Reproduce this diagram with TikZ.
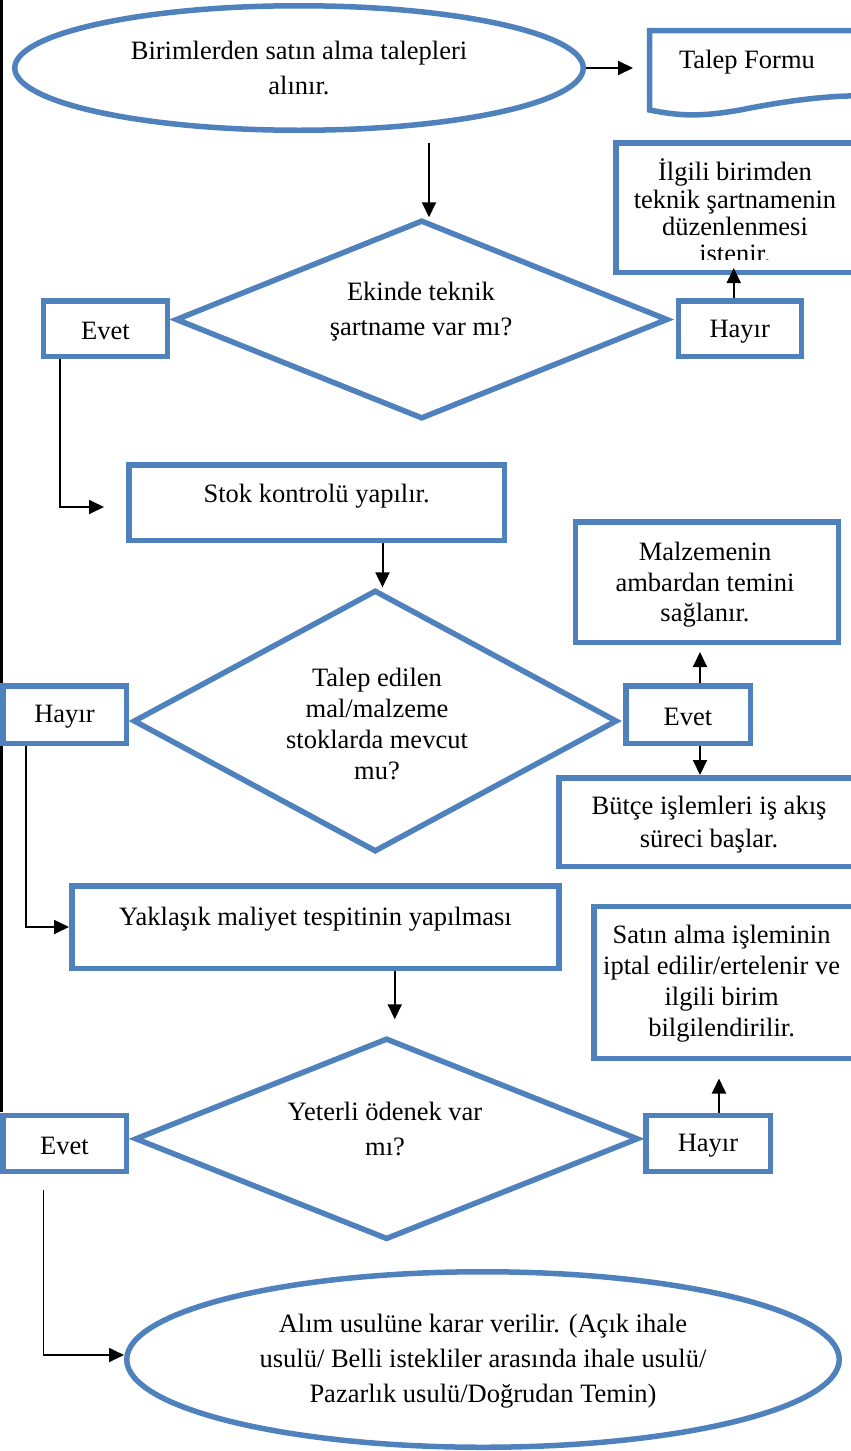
\documentclass[tikz,border=0pt]{standalone}
\usepackage{fontspec}
\setmainfont{Liberation Serif}
\usetikzlibrary{arrows.meta,shapes.geometric}
\definecolor{wblue}{RGB}{79,129,189}
\begin{document}
\begin{tikzpicture}[x=1pt,y=-1pt,
  shapeline/.style={draw=wblue, line width=5.5pt},
  box/.style={shapeline, rectangle, inner sep=2pt},
  ell/.style={shapeline, ellipse, inner sep=1pt, align=center, font=\fontsize{26.5}{35}\selectfont},
  dia/.style={shapeline, diamond, inner sep=0pt},
  txt/.style={inner sep=0pt, align=center, font=\fontsize{26.5}{35}\selectfont},
  arr/.style={line width=2pt, -{Triangle[length=15pt,width=14pt]}},
  arrthin/.style={line width=1.8pt, -{Triangle[length=15pt,width=14pt]}}]
\useasboundingbox (0,0) rectangle (851,1451);
\clip (0,0) rectangle (851,1451);

% page border line on the left
\draw[line width=3pt] (1.5,0) -- (1.5,1112);

% start ellipse
\node[ell, minimum width=568.5pt, minimum height=124.5pt] (ell1) at (299,68) {Birimlerden satın alma talepleri\\alınır.};

% document shape
\draw[shapeline] (649.5,110) -- (649.5,30.5) -- (870,30.5) -- (870,96)
  .. controls (840,95) and (800,98) .. (740,110)
  .. controls (700,117) and (680,116) .. (649.5,110) -- cycle;
\node[txt] (talepT) at (747,62) {Talep Formu};
\coordinate (cTalep) at (633,67);

% decision 1
\coordinate (c1) at (429,143);
\node[dia, minimum width=492.6pt, minimum height=199pt] (d1) at (421.7,319.5) {};
\node[txt] (d1T) at (421,312) {Ekinde teknik\\şartname var mı?};
\node[box, minimum width=123.8pt, minimum height=55.5pt] (e1) at (105.4,328.5) {};
\node[txt] (e1T) at ([yshift=-2.5pt]e1.center) {Evet};
\node[box, minimum width=123pt, minimum height=55.5pt] (h1) at (739.75,328.5) {};
\node[txt] (h1T) at ([yshift=-3pt]h1.center) {Hayır};
\node[box, minimum width=242.5pt, minimum height=129.5pt] (ilgili) at (737,207.5) {};
\begin{scope}
  \clip (618,145) rectangle (851,259);
  \node[txt, font=\fontsize{26.5}{27.3}\selectfont] (ilgiliT) at (735,211) {İlgili birimden\\teknik şartnamenin\\düzenlenmesi\\istenir.};
\end{scope}

% stock control
\node[box, minimum width=375.5pt, minimum height=75.5pt] (stok) at (316.5,502.5) {};
\node[txt] (stokT) at (316.6,496) {Stok kontrolü yapılır.};
\coordinate (cStok) at (104,507);

% decision 2
\node[dia, minimum width=483.9pt, minimum height=261.8pt] (d2) at (375.25,721) {};
\node[txt, font=\fontsize{26.5}{30.7}\selectfont] (d2T) at (377,724) {Talep edilen\\mal/malzeme\\stoklarda mevcut\\mu?};
\node[box, minimum width=123.5pt, minimum height=57.5pt] (h2) at (64.5,714.5) {};
\node[txt] (h2T) at ([yshift=-2.5pt]h2.center) {Hayır};
\node[box, minimum width=124.5pt, minimum height=57.5pt] (e2) at (688,714.5) {};
\node[txt] (e2T) at ([yshift=-2.5pt]e2.center) {Evet};
\node[box, minimum width=263pt, minimum height=120.5pt] (malz) at (706.75,582) {};
\node[txt, font=\fontsize{26.5}{30.5}\selectfont] (malzT) at (705,585) {Malzemenin\\ambardan temini\\sağlanır.};
\node[box, minimum width=300.5pt, minimum height=88.5pt] (butce) at (709,822) {};
\node[txt, font=\fontsize{26.5}{33}\selectfont] (butceT) at (709,824.5) {Bütçe işlemleri iş akış\\süreci başlar.};

% cost estimate
\node[box, minimum width=487pt, minimum height=82.5pt] (yak) at (315.25,927) {};
\node[txt] (yakT) at (315.5,919) {Yaklaşık maliyet tespitinin yapılması};

% decision 3
\node[dia, minimum width=503.4pt, minimum height=201.6pt] (d3) at (386.6,1138.8) {};
\node[txt] (d3T) at (385,1128.5) {Yeterli ödenek var\\mı?};
\node[box, minimum width=123.5pt, minimum height=55.9pt] (e3) at (64.5,1143.3) {};
\node[txt] (e3T) at ([yshift=-2.5pt]e3.center) {Evet};
\node[box, minimum width=124.5pt, minimum height=55.9pt] (h3) at (708,1143.3) {};
\node[txt] (h3T) at ([yshift=-2.5pt]h3.center) {Hayır};
\node[box, minimum width=262pt, minimum height=152pt] (satin) at (725.15,982.25) {};
\node[txt, font=\fontsize{26.5}{31}\selectfont] (satinT) at (721.6,983.5) {Satın alma işleminin\\iptal edilir/ertelenir ve\\ilgili birim\\bilgilendirilir.};

% end ellipse
\node[ell, minimum width=712.5pt, minimum height=175.5pt] (ell2) at (483,1359.5) {};
\node[txt] (ell2T) at (483,1361) {Alım usulüne karar verilir. (Açık ihale\\usulü/ Belli istekliler arasında ihale usulü/\\Pazarlık usulü/Doğrudan Temin)};

% connectors
\draw[arr] (ell1.east) -- (cTalep |- ell1.east);
\draw[arr] (c1) -- (c1 |- d1.north);
\draw[arr, shorten >=-7pt] ([xshift=-6pt]h1.north) -- ([xshift=-6pt]h1.north |- ilgili.south);
\draw[arrthin] ([xshift=-45.4pt]e1.south) |- (cStok);
\draw[arr] ([xshift=66pt]stok.south) -- ([xshift=66pt]stok.south |- d2.north);
\draw[arrthin] ([xshift=-38.5pt]h2.south) |- (yak.west);
\draw[arr, shorten >=7pt] ([xshift=12pt]e2.north) -- ([xshift=12pt]e2.north |- malz.south);
\draw[arr] ([xshift=12pt]e2.south) -- ([xshift=12pt]e2.south |- butce.north);
\draw[arr, shorten >=16pt] ([xshift=79.5pt]yak.south) -- ([xshift=79.5pt]yak.south |- d3.north);
\draw[arr, shorten >=17.5pt] ([xshift=11pt]h3.north) -- ([xshift=11pt]h3.north |- satin.south);
\draw[arrthin, shorten <=16pt] ([xshift=-21pt]e3.south) |- ([yshift=4.5pt]ell2.west);
\end{tikzpicture}
\end{document}
